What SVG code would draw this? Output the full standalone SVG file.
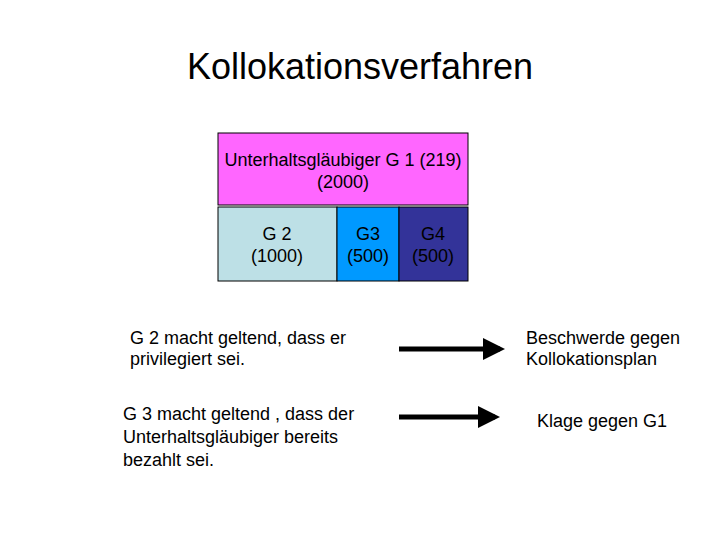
<svg xmlns="http://www.w3.org/2000/svg" width="720" height="540" viewBox="0 0 720 540">
<style>
text{font-family:"Liberation Sans",Arial,sans-serif;fill:#000}
.b{stroke:#000;stroke-width:1}
.c{font-size:18px;text-anchor:middle}
.t{font-size:18px}
</style>
<defs><marker id="ah" markerWidth="4.4" markerHeight="4.4" refX="3.4" refY="2.2" orient="auto" markerUnits="strokeWidth"><path d="M0,0L4.4,2.2L0,4.4Z" fill="#000"/></marker></defs>
<rect width="720" height="540" fill="#fff"/>
<text x="360" y="79" font-size="36" text-anchor="middle">Kollokationsverfahren</text>
<g id="g1"><rect class="b" x="218" y="133" width="250" height="72" fill="#ff66ff"/><text class="c" x="343" y="166">Unterhaltsgläubiger G 1 (219)</text><text class="c" x="343" y="188">(2000)</text></g>
<g id="g2"><rect class="b" x="218" y="207" width="119" height="74" fill="#bde0e6"/><text class="c" x="277" y="240">G 2</text><text class="c" x="277" y="262">(1000)</text></g>
<g id="g3"><rect class="b" x="337" y="207" width="62" height="74" fill="#0099ff"/><text class="c" x="368" y="240">G3</text><text class="c" x="368" y="262">(500)</text></g>
<g id="g4"><rect class="b" x="399" y="207" width="69" height="74" fill="#333399"/><text class="c" x="433" y="240">G4</text><text class="c" x="433" y="262">(500)</text></g>
<g id="l1"><text class="t" x="130" y="344">G 2 macht geltend, dass er</text><text class="t" x="130" y="365">privilegiert sei.</text></g>
<g id="l2"><text class="t" x="123" y="420">G 3 macht geltend , dass der</text><text class="t" x="123" y="443">Unterhaltsgläubiger bereits</text><text class="t" x="123" y="466">bezahlt sei.</text></g>
<g id="r1"><text class="t" x="526" y="344">Beschwerde gegen</text><text class="t" x="526" y="365">Kollokationsplan</text></g>
<g id="r2"><text class="t" x="537" y="427">Klage gegen G1</text></g>
<g id="connectors" stroke="#000" stroke-width="5">
<line x1="399" y1="349" x2="500" y2="349" marker-end="url(#ah)"/>
<line x1="399" y1="417" x2="495" y2="417" marker-end="url(#ah)"/>
</g>
</svg>
